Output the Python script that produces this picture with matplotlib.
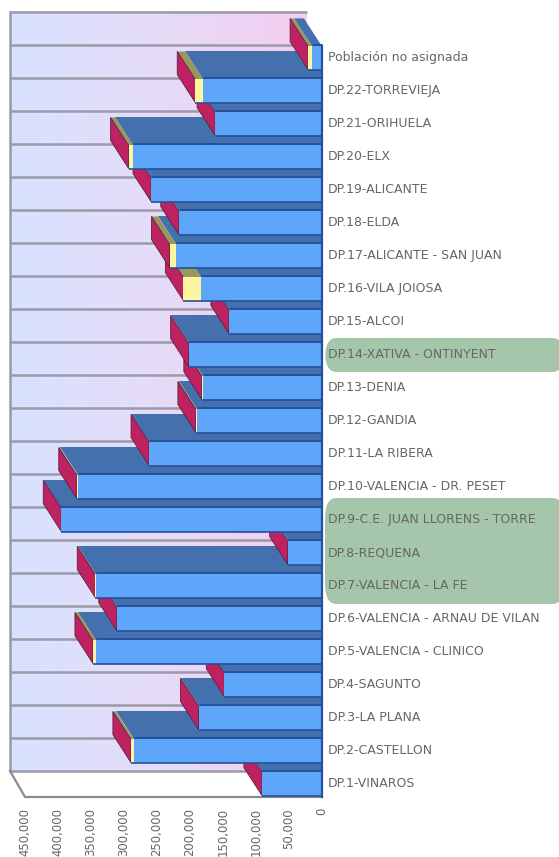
import numpy as np
import matplotlib
matplotlib.use("Agg")
import matplotlib.pyplot as plt
from matplotlib.patches import Polygon, FancyBboxPatch

# departments, bottom row first
departments = ["DP.1-VINAROS", "DP.2-CASTELLON", "DP.3-LA PLANA", "DP.4-SAGUNTO",
               "DP.5-VALENCIA - CLINICO", "DP.6-VALENCIA - ARNAU DE VILAN",
               "DP.7-VALENCIA - LA FE", "DP.8-REQUENA", "DP.9-C.E. JUAN LLORENS - TORRE",
               "DP.10-VALENCIA - DR. PESET", "DP.11-LA RIBERA", "DP.12-GANDIA",
               "DP.13-DENIA", "DP.14-XATIVA - ONTINYENT", "DP.15-ALCOI",
               "DP.16-VILA JOIOSA", "DP.17-ALICANTE - SAN JUAN", "DP.18-ELDA",
               "DP.19-ALICANTE", "DP.20-ELX", "DP.21-ORIHUELA", "DP.22-TORREVIEJA",
               "Población no asignada"]
main_vals = [91000, 285000, 186000, 148000, 342000, 311000, 342000, 52000, 395000,
             370000, 262000, 189000, 180000, 202000, 141000, 183000, 221000, 217000,
             259000, 286000, 162000, 180000, 15000]
second_vals = [0, 4500, 1000, 0, 5000, 0, 1500, 0, 0,
               1500, 0, 2000, 2000, 0, 0, 27000, 10000, 0,
               0, 7000, 0, 12000, 6000]
val_ticks = [450000, 400000, 350000, 300000, 250000, 200000, 150000, 100000, 50000, 0]

W, H = 559, 857
fig = plt.figure(figsize=(W / 100, H / 100), dpi=100)
fig.patch.set_facecolor("white")
ax = fig.add_axes([25 / W, 1 - 797 / H, 297 / W, 756 / H])
ax.set_xlim(450000, 0)
ylim = (-0.394, 22.515)
ax.set_ylim(*ylim)
ax.axis("off")

# fake 3d depth, in axis units
wall_dx, wall_dy = 22700, 26 / 33
bar_dx, bar_dy = 27300, 28 / 33
half = 0.35

BLUE, BLUE_TOP, EDGE = "#5ea6fa", "#4470ae", "#24509c"
RED, YELLOW, YELLOW_TOP = "#bf2260", "#fbf6a0", "#98985c"
GRID = "#9a9aa8"


def para(ax, pts, color, z, ec="none", lw=0):
    ax.add_patch(Polygon(pts, closed=True, fc=color, ec=ec, lw=lw, zorder=z, clip_on=False))


# back wall gradient
grad = np.linspace(0, 1, 256).reshape(1, -1)
cmap = matplotlib.colors.LinearSegmentedColormap.from_list("wall", ["#d8e2ff", "#e6dcf8", "#f4cdf0"])
y0, y1 = ylim[0] + wall_dy, ylim[0] + 23 + wall_dy
ax.imshow(grad, extent=(450000 + wall_dx, wall_dx, y0, y1), aspect="auto", cmap=cmap,
          zorder=1, clip_on=False)
ax.set_xlim(450000, 0)
ax.set_ylim(*ylim)

# floor
para(ax, [(450000, ylim[0]), (0, ylim[0]), (wall_dx, y0), (450000 + wall_dx, y0)],
     "white", 2)

for k in range(24):
    yy = y0 + k
    ax.plot([450000 + wall_dx, wall_dx], [yy, yy], color=GRID, lw=1.8, zorder=3,
            clip_on=False, solid_capstyle="butt")
ax.plot([450000 + wall_dx] * 2, [y0, y1], color=GRID, lw=1.8, zorder=3, clip_on=False)
ax.plot([450000 + wall_dx, 450000, 0], [y0, ylim[0], ylim[0]], color="#8c8c90", lw=1.6,
        zorder=3, clip_on=False)

# bars go bottom row first, each upper one sits over the row below it
last = len(main_vals) - 1
for i, (m, s) in enumerate(zip(main_vals, second_vals)):
    z = 10 + i
    bot, top = i - half, i + half
    total = m + s
    # top faces, only the last row shows the slanted far corner
    far_right = bar_dx if i == last else 0
    para(ax, [(m, top), (0, top), (far_right, top + bar_dy), (m + bar_dx, top + bar_dy)], BLUE_TOP, z)
    ax.plot([m, 0], [top + 0.05, top + 0.05], color=EDGE, lw=2.2, zorder=z + 0.1,
            solid_capstyle="butt", clip_on=False)
    if s > 0:
        para(ax, [(total, top), (m, top), (m + bar_dx, top + bar_dy), (total + bar_dx, top + bar_dy)],
             YELLOW_TOP, z + 0.2)
    # left end
    para(ax, [(total, bot), (total, top), (total + bar_dx, top + bar_dy), (total + bar_dx, bot + bar_dy)],
         RED, z + 0.3, ec="#5a2040", lw=0.6)
    # front faces
    ax.barh(i, m, height=2 * half, color=BLUE, zorder=z + 0.4, clip_on=False)
    if s > 0:
        ax.barh(i, s, left=m, height=2 * half, color=YELLOW, zorder=z + 0.4, clip_on=False)
    ax.plot([total, 0], [bot, bot], color=EDGE, lw=1.2, zorder=z + 0.5, clip_on=False,
            solid_capstyle="butt")

ax.plot([0, 0], [ylim[0], last + half], color=EDGE, lw=1.6, zorder=60, clip_on=False)
ax.set_xlim(450000, 0)
ax.set_ylim(*ylim)

# highlighted label bands, in figure pixels
for (x0, top_px, x1, bot_px) in [(325, 338, 564, 372), (325, 498, 564, 604)]:
    fig.add_artist(FancyBboxPatch((x0 / W, 1 - bot_px / H), (x1 - x0) / W, (bot_px - top_px) / H,
                                  boxstyle="round,pad=0,rounding_size=0.02",
                                  transform=fig.transFigure, fc="#a5c6aa", ec="none",
                                  mutation_aspect=H / W * 0.8, zorder=-1))

trans = ax.get_yaxis_transform()
for i, name in enumerate(departments):
    ax.text(1.02, i, name, transform=trans, ha="left", va="center", fontsize=9.0,
            family="DejaVu Sans", color="#666666", clip_on=False)

for v in val_ticks:
    ax.annotate(f"{v:,}", xy=(v, 0), xycoords=ax.get_xaxis_transform(), xytext=(0, -11),
                textcoords="offset pixels", rotation=90, ha="center", va="top",
                fontsize=8.4, color="#666666")

fig.savefig("out.png", dpi=100, facecolor="white")
